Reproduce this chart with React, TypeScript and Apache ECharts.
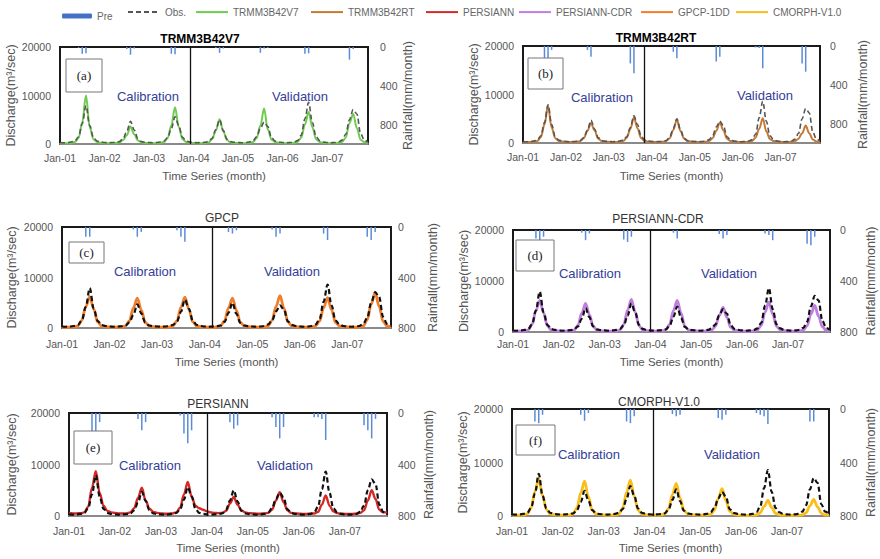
import React, { useEffect, useRef } from "react";
import * as echarts from "echarts";

const MONTHS = ["Jan", "Feb", "Mar", "Apr", "May", "Jun", "Jul", "Aug", "Sep", "Oct", "Nov", "Dec"];
const YEARS = ["01", "02", "03", "04", "05", "06", "07"];
const categories = YEARS.flatMap((y) => MONTHS.map((m) => `${m}-${y}`));

const LEGEND_NAMES = ["Pre", "Obs.", "TRMM3B42V7", "TRMM3B42RT", "PERSIANN", "PERSIANN-CDR", "GPCP-1DD", "CMORPH-V1.0"];

// Observed discharge (m3/s), monthly Jan-01 .. Dec-07
const obs = [
  300, 250, 300, 400, 600, 1500, 4200, 7900, 3800, 1400, 600, 400,
  300, 250, 300, 350, 500, 1100, 2600, 4700, 2900, 1100, 500, 350,
  300, 250, 300, 400, 600, 1300, 3200, 5600, 3800, 1400, 600, 400,
  300, 250, 300, 350, 500, 1200, 3000, 5000, 2800, 1000, 500, 350,
  300, 250, 300, 400, 700, 1500, 3300, 4500, 3600, 1300, 600, 400,
  300, 250, 300, 400, 700, 1800, 5200, 8600, 4500, 1500, 700, 400,
  300, 250, 300, 400, 800, 2000, 5000, 7100, 6200, 2200, 800, 400,
];

const simV7 = [
  200, 150, 150, 200, 400, 1200, 4500, 10000, 3500, 1000, 400, 250,
  200, 150, 150, 200, 300, 800, 1800, 3600, 2000, 700, 300, 200,
  200, 150, 150, 200, 400, 1200, 3800, 7600, 3500, 1000, 400, 250,
  200, 150, 150, 200, 300, 1000, 2800, 5100, 2600, 800, 300, 200,
  200, 150, 150, 200, 400, 1200, 3800, 7300, 3000, 900, 400, 250,
  200, 150, 150, 200, 400, 1300, 4000, 6600, 3500, 1000, 400, 250,
  200, 150, 150, 200, 400, 1300, 4300, 6200, 3300, 900, 400, 200,
];

const simRT = [
  250, 200, 200, 250, 400, 1200, 3800, 7700, 3200, 1000, 400, 300,
  250, 200, 200, 250, 400, 1000, 2500, 4100, 2600, 900, 400, 300,
  250, 200, 200, 250, 400, 1100, 2900, 5300, 3000, 1000, 400, 300,
  250, 200, 200, 250, 400, 1000, 2700, 4800, 2500, 900, 400, 300,
  250, 200, 200, 250, 400, 1000, 2500, 4200, 2600, 900, 400, 300,
  250, 200, 200, 250, 400, 1100, 2900, 5100, 2400, 800, 400, 300,
  250, 200, 200, 250, 400, 900, 2000, 3600, 2000, 700, 300, 250,
];

const simGPCP = [
  200, 150, 150, 200, 400, 1500, 4200, 6200, 3800, 1200, 400, 250,
  200, 150, 150, 200, 400, 1400, 4000, 5900, 3600, 1100, 400, 250,
  200, 150, 150, 200, 400, 1400, 4100, 6100, 3800, 1200, 400, 250,
  200, 150, 150, 200, 400, 1400, 4000, 5900, 3500, 1100, 400, 250,
  200, 150, 150, 200, 400, 1500, 4300, 6400, 3900, 1200, 400, 250,
  200, 150, 150, 200, 400, 1400, 4000, 6000, 3600, 1100, 400, 250,
  200, 150, 150, 200, 400, 1600, 4700, 7000, 4300, 1300, 400, 250,
];

const simCDR = [
  200, 150, 150, 200, 400, 1500, 4200, 6200, 3800, 1200, 400, 250,
  200, 150, 150, 200, 400, 1300, 3700, 5600, 3400, 1100, 400, 250,
  200, 150, 150, 200, 400, 1500, 4300, 6400, 3900, 1200, 400, 250,
  200, 150, 150, 200, 400, 1500, 4200, 6200, 3700, 1100, 400, 250,
  200, 150, 150, 200, 400, 1100, 3200, 4800, 2900, 900, 350, 250,
  200, 150, 150, 200, 400, 1300, 3900, 5900, 3500, 1100, 400, 250,
  200, 150, 150, 200, 400, 1200, 3500, 5200, 3100, 1000, 350, 250,
];

const simPERSIANN = [
  600, 500, 500, 550, 700, 1800, 5500, 8700, 4500, 2000, 1000, 700,
  600, 500, 500, 500, 700, 1500, 3500, 5500, 3000, 1400, 800, 600,
  500, 450, 450, 500, 700, 1600, 4200, 6600, 3800, 2000, 1500, 1200,
  900, 700, 600, 550, 600, 1000, 2400, 3700, 2200, 1100, 700, 550,
  500, 450, 450, 500, 600, 1200, 3000, 4600, 2700, 1100, 600, 500,
  450, 400, 400, 450, 500, 800, 2200, 4000, 2000, 900, 550, 450,
  400, 400, 400, 450, 600, 1100, 3000, 5000, 3300, 1200, 700, 700,
];

const simCMORPH = [
  200, 150, 150, 200, 400, 1500, 4500, 7000, 3800, 1200, 400, 250,
  200, 150, 150, 200, 400, 1500, 4300, 6500, 3600, 1100, 400, 250,
  200, 150, 150, 200, 400, 1500, 4400, 6700, 3700, 1100, 400, 250,
  200, 150, 150, 200, 400, 1400, 4000, 6100, 3400, 1000, 400, 250,
  200, 150, 150, 200, 300, 1100, 3300, 5100, 2900, 900, 350, 200,
  150, 100, 100, 150, 200, 600, 1800, 2900, 1600, 500, 200, 150,
  150, 100, 100, 150, 200, 600, 1900, 3100, 1700, 500, 200, 150,
];

// Rainfall (mm/month) per product
const rainV7 = [
  0, 0, 0, 0, 0, 10, 70, 65, 0, 0, 0, 0,
  0, 0, 0, 0, 0, 0, 20, 80, 15, 0, 0, 0,
  0, 0, 0, 0, 0, 0, 70, 75, 0, 0, 0, 0,
  0, 0, 0, 0, 0, 0, 10, 60, 15, 0, 0, 0,
  0, 0, 0, 0, 0, 0, 60, 15, 10, 0, 0, 0,
  0, 0, 0, 0, 0, 0, 70, 65, 0, 0, 0, 0,
  0, 0, 0, 0, 0, 0, 130, 20, 0, 0, 0, 0,
];

const rainRT = [
  0, 0, 0, 0, 0, 0, 130, 140, 40, 0, 0, 0,
  0, 0, 0, 0, 0, 0, 40, 110, 0, 0, 0, 0,
  0, 0, 0, 0, 0, 0, 180, 280, 0, 0, 0, 0,
  0, 0, 0, 0, 0, 0, 60, 125, 0, 0, 0, 0,
  0, 0, 0, 0, 0, 0, 160, 110, 0, 0, 0, 0,
  0, 0, 0, 0, 0, 15, 20, 230, 0, 0, 0, 0,
  0, 0, 0, 0, 0, 0, 180, 265, 0, 0, 0, 0,
];

const rainGPCP = [
  0, 0, 0, 0, 0, 0, 77, 77, 0, 0, 0, 0,
  0, 0, 0, 0, 0, 0, 20, 77, 39, 0, 0, 0,
  0, 0, 0, 0, 0, 26, 77, 116, 0, 0, 0, 0,
  0, 0, 0, 0, 0, 0, 39, 52, 26, 0, 0, 0,
  0, 0, 0, 0, 0, 20, 77, 52, 0, 0, 0, 0,
  0, 0, 0, 0, 0, 0, 52, 103, 0, 0, 0, 0,
  0, 0, 0, 0, 0, 77, 103, 39, 0, 0, 0, 0,
];

const rainCDR = [
  0, 0, 0, 0, 0, 0, 67, 80, 53, 0, 0, 0,
  0, 0, 0, 0, 0, 0, 21, 80, 27, 0, 0, 0,
  0, 0, 0, 0, 0, 75, 93, 53, 0, 0, 0, 0,
  0, 0, 0, 0, 0, 0, 21, 67, 0, 0, 0, 0,
  0, 0, 0, 0, 0, 0, 32, 67, 40, 0, 0, 0,
  0, 0, 0, 0, 0, 0, 27, 40, 80, 0, 0, 0,
  0, 0, 0, 0, 0, 107, 120, 53, 0, 0, 0, 0,
];

const rainPERSIANN = [
  0, 0, 0, 0, 0, 0, 185, 172, 71, 0, 0, 0,
  0, 0, 0, 0, 0, 0, 46, 134, 71, 0, 0, 0,
  0, 0, 0, 0, 0, 20, 160, 235, 134, 0, 0, 0,
  0, 0, 0, 0, 0, 0, 71, 122, 96, 0, 0, 0,
  0, 0, 0, 0, 0, 33, 109, 197, 109, 0, 0, 0,
  0, 0, 0, 0, 33, 33, 46, 210, 0, 0, 0, 0,
  0, 0, 0, 0, 0, 96, 134, 197, 46, 0, 0, 0,
];

const rainCMORPH = [
  0, 0, 0, 0, 0, 0, 93, 106, 43, 0, 0, 0,
  0, 0, 0, 0, 0, 0, 43, 88, 30, 0, 0, 0,
  0, 0, 0, 0, 0, 0, 93, 106, 55, 0, 0, 0,
  0, 0, 0, 0, 0, 0, 38, 55, 43, 0, 0, 0,
  0, 0, 0, 0, 0, 0, 68, 80, 43, 0, 0, 0,
  0, 0, 0, 0, 30, 43, 55, 113, 0, 0, 0, 0,
  0, 0, 0, 0, 0, 0, 93, 93, 0, 0, 0, 0,
];

const FONT = "'Liberation Sans', Arial, sans-serif";
const RAIN_COLOR = "#5b8bd8";
const TEXT_BLUE = "#34409a";

type Panel = {
  label: string;
  title: string;
  simName: string;
  sim: number[];
  rain: number[];
  color: string;
  grid: { left: number; top: number; width: number; height: number };
  rainMax: number;
  split: number;
  titlePos: [number, number];
  titleBold: boolean;
  box: [number, number, number, number];
  calib: [number, number];
  valid: [number, number];
  xLabelMargin: number;
  xNameGap: number;
  yNameGap: number;
  rLabelMargin: number;
  rNameGap: number;
  simWidth: number;
  obsColor: string;
  obsWidth: number;
};

const PANELS: Panel[] = [
  {
    label: "(a)", title: "TRMM3B42V7", simName: "TRMM3B42V7", sim: simV7, rain: rainV7, color: "#6fcb4f",
    grid: { left: 60, top: 47, width: 308, height: 97 }, rainMax: 1000, split: 35,
    titlePos: [200, 39], titleBold: true, box: [66, 59, 36, 33], calib: [148, 96], valid: [300, 96],
    xLabelMargin: 8, xNameGap: 26, yNameGap: 42, rLabelMargin: 12, rNameGap: 31,
    simWidth: 2, obsColor: "#555", obsWidth: 1.6,
  },
  {
    label: "(b)", title: "TRMM3B42RT", simName: "TRMM3B42RT", sim: simRT, rain: rainRT, color: "#c47a35",
    grid: { left: 523, top: 46, width: 297, height: 97 }, rainMax: 1000, split: 34,
    titlePos: [656, 38], titleBold: true, box: [528, 58, 35, 31], calib: [602, 97], valid: [765, 95],
    xLabelMargin: 8, xNameGap: 27, yNameGap: 42, rLabelMargin: 10, rNameGap: 36,
    simWidth: 2, obsColor: "#555", obsWidth: 1.6,
  },
  {
    label: "(c)", title: "GPCP", simName: "GPCP-1DD", sim: simGPCP, rain: rainGPCP, color: "#f07e2b",
    grid: { left: 62, top: 227, width: 329, height: 101 }, rainMax: 800, split: 38,
    titlePos: [222, 218], titleBold: false, box: [69, 242, 35, 21], calib: [145, 271], valid: [292, 271],
    xLabelMargin: 10, xNameGap: 28, yNameGap: 44, rLabelMargin: 7, rNameGap: 35,
    simWidth: 2.8, obsColor: "#111", obsWidth: 2.2,
  },
  {
    label: "(d)", title: "PERSIANN-CDR", simName: "PERSIANN-CDR", sim: simCDR, rain: rainCDR, color: "#c07ede",
    grid: { left: 513, top: 230, width: 317, height: 102 }, rainMax: 800, split: 36,
    titlePos: [658, 219], titleBold: false, box: [516, 240, 38, 31], calib: [590, 273], valid: [729, 273],
    xLabelMargin: 6, xNameGap: 24, yNameGap: 42, rLabelMargin: 10, rNameGap: 34,
    simWidth: 2.8, obsColor: "#111", obsWidth: 2.2,
  },
  {
    label: "(e)", title: "PERSIANN", simName: "PERSIANN", sim: simPERSIANN, rain: rainPERSIANN, color: "#d42a27",
    grid: { left: 69, top: 413, width: 318, height: 103 }, rainMax: 800, split: 36,
    titlePos: [218, 404], titleBold: false, box: [74, 431, 38, 33], calib: [150, 465], valid: [285, 465],
    xLabelMargin: 9, xNameGap: 26, yNameGap: 51, rLabelMargin: 11, rNameGap: 35,
    simWidth: 2.4, obsColor: "#111", obsWidth: 2.2,
  },
  {
    label: "(f)", title: "CMORPH-V1.0", simName: "CMORPH-V1.0", sim: simCMORPH, rain: rainCMORPH, color: "#f9be1a",
    grid: { left: 512, top: 409, width: 317, height: 107 }, rainMax: 800, split: 37,
    titlePos: [659, 402], titleBold: false, box: [516, 425, 39, 30], calib: [589, 454], valid: [732, 454],
    xLabelMargin: 9, xNameGap: 26, yNameGap: 41, rLabelMargin: 11, rNameGap: 35,
    simWidth: 2.8, obsColor: "#111", obsWidth: 2.2,
  },
];

const LEGEND_LEFT = [62, 127, 195, 310, 425, 518, 640, 735];

function buildOption() {
  const grid: any[] = [];
  const xAxis: any[] = [];
  const yAxis: any[] = [];
  const series: any[] = [];
  const graphic: any[] = [];

  PANELS.forEach((p, i) => {
    grid.push({ ...p.grid, show: true, borderColor: "#1a1a1a", borderWidth: 2, backgroundColor: "transparent" });
    xAxis.push({
      type: "category",
      gridIndex: i,
      data: categories,
      boundaryGap: false,
      axisLine: { show: true, lineStyle: { color: "#8a8a8a", width: 2 } },
      axisTick: { show: false },
      splitLine: { show: false },
      axisLabel: {
        interval: (idx: number) => idx % 12 === 0,
        color: "#555",
        fontSize: 10.5,
        fontFamily: FONT,
        margin: p.xLabelMargin,
      },
      name: "Time Series (month)",
      nameLocation: "middle",
      nameGap: p.xNameGap,
      nameTextStyle: { color: "#555", fontSize: 11.5, fontFamily: FONT },
    });
    yAxis.push({
      type: "value",
      gridIndex: i,
      min: 0,
      max: 20000,
      interval: 10000,
      axisLine: { show: false },
      axisTick: { show: false },
      splitLine: { show: false },
      axisLabel: {
        color: "#555",
        fontSize: 10.5,
        fontFamily: FONT,
        margin: 9,
        formatter: (v: number) => String(v),
      },
      name: "Discharge(m³/sec)",
      nameLocation: "middle",
      nameGap: p.yNameGap,
      nameTextStyle: { color: "#555", fontSize: 12.5, fontFamily: FONT },
    });
    yAxis.push({
      type: "value",
      gridIndex: i,
      position: "right",
      inverse: true,
      min: 0,
      max: p.rainMax,
      interval: 400,
      axisLine: { show: false },
      axisTick: { show: false },
      splitLine: { show: false },
      axisLabel: {
        color: "#555",
        fontSize: 10.5,
        fontFamily: FONT,
        margin: p.rLabelMargin,
        formatter: (v: number) => (v % 400 === 0 ? String(v) : ""),
      },
      name: "Rainfall(mm/month)",
      nameLocation: "middle",
      nameGap: p.rNameGap,
      nameTextStyle: { color: "#555", fontSize: 12.5, fontFamily: FONT },
    });

    series.push({
      name: "Pre",
      type: "bar",
      xAxisIndex: i,
      yAxisIndex: i * 2 + 1,
      data: p.rain,
      barWidth: 1.5,
      itemStyle: { color: RAIN_COLOR },
      z: 1,
    });
    series.push({
      name: p.simName,
      type: "line",
      xAxisIndex: i,
      yAxisIndex: i * 2,
      data: p.sim,
      smooth: 0.35,
      smoothMonotone: "x",
      symbol: "none",
      lineStyle: { color: p.color, width: p.simWidth },
      itemStyle: { color: p.color },
      z: 2,
      markLine: {
        silent: true,
        symbol: "none",
        label: { show: false },
        lineStyle: { color: "#111", width: 1.3, type: "solid" },
        data: [{ xAxis: categories[p.split] }],
      },
    });
    series.push({
      name: "Obs.",
      type: "line",
      xAxisIndex: i,
      yAxisIndex: i * 2,
      data: obs,
      smooth: 0.35,
      smoothMonotone: "x",
      symbol: "none",
      lineStyle: { color: p.obsColor, width: p.obsWidth, type: [5, 3] },
      itemStyle: { color: p.obsColor },
      z: 3,
    });

    graphic.push({
      type: "text",
      x: p.titlePos[0],
      y: p.titlePos[1],
      style: {
        text: p.title,
        fill: p.titleBold ? "#000" : "#333",
        font: `${p.titleBold ? "bold " : ""}12px ${FONT}`,
        textAlign: "center",
        textVerticalAlign: "middle",
      },
    });
    graphic.push({
      type: "rect",
      shape: { x: p.box[0], y: p.box[1], width: p.box[2], height: p.box[3] },
      style: { fill: "#fff", stroke: "#777", lineWidth: 1 },
      z: 10,
    });
    graphic.push({
      type: "text",
      x: p.box[0] + p.box[2] / 2,
      y: p.box[1] + p.box[3] / 2,
      style: {
        text: p.label,
        fill: "#222",
        font: "13px 'Liberation Serif', serif",
        textAlign: "center",
        textVerticalAlign: "middle",
      },
      z: 11,
    });
    graphic.push({
      type: "text",
      x: p.calib[0],
      y: p.calib[1],
      style: { text: "Calibration", fill: TEXT_BLUE, font: `13px ${FONT}`, textAlign: "center", textVerticalAlign: "middle" },
      z: 11,
    });
    graphic.push({
      type: "text",
      x: p.valid[0],
      y: p.valid[1],
      style: { text: "Validation", fill: TEXT_BLUE, font: `13px ${FONT}`, textAlign: "center", textVerticalAlign: "middle" },
      z: 11,
    });
  });

  const legend = LEGEND_NAMES.map((name, k) => ({
    data: [name],
    left: LEGEND_LEFT[k],
    top: name === "Pre" ? 11 : 6.5,
    orient: "horizontal",
    itemWidth: name === "Pre" ? 30 : 32,
    itemHeight: name === "Pre" ? 5 : 14,
    itemGap: 0,
    padding: 0,
    selectedMode: false,
    itemStyle: name === "Pre" ? { color: "#4472c4" } : { opacity: 0 },
    lineStyle: { width: 2 },
    textStyle: { color: "#666", fontSize: 10, fontFamily: FONT },
  }));

  return {
    animation: false,
    backgroundColor: "#fff",
    legend,
    grid,
    xAxis,
    yAxis,
    series,
    graphic,
  };
}

export default function App() {
  const ref = useRef<HTMLDivElement>(null);
  useEffect(() => {
    if (!ref.current) return;
    const chart = echarts.init(ref.current, undefined, { renderer: "svg" });
    chart.setOption(buildOption() as any);
    return () => chart.dispose();
  }, []);
  return (
    <div
      ref={ref}
      style={{ position: "fixed", left: 0, top: 0, width: 880, height: 559, background: "#fff" }}
    />
  );
}
